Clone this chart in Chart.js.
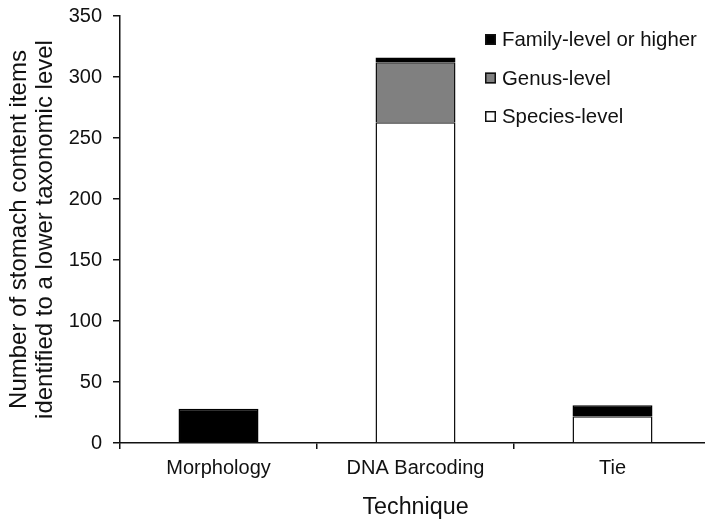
<!DOCTYPE html>
<html>
<head>
<meta charset="utf-8">
<script src="https://cdn.jsdelivr.net/npm/chart.js@4/dist/chart.umd.min.js"></script>
<style>
  html, body { margin: 0; padding: 0; background: #fff; overflow: hidden; width: 705px; height: 522px; }
  #wrap { position: absolute; left: 0; top: 0; width: 712px; height: 522px; }
</style>
</head>
<body>
<div id="wrap"><canvas id="c" width="712" height="522"></canvas></div>
<script>
// Stomach content items identified to a lower taxonomic level, by technique
const categories = ['Morphology', 'DNA Barcoding', 'Tie'];
const speciesLevel = [null, 263, 22];
const genusLevel   = [null, 49, null];
const familyLevel  = [28, 4, 9];
const yTicks = [0, 50, 100, 150, 200, 250, 300, 350];

const FONT = "'Liberation Sans', Arial, sans-serif";

// Legend drawn inside the plot, top-right, with the top stack segment listed first
const insideLegend = {
  id: 'insideLegend',
  afterDraw(chart) {
    const ctx = chart.ctx;
    const sets = chart.data.datasets.slice().reverse();
    const x0 = 485, y0 = 34, step = 38.5, box = 11;
    ctx.save();
    ctx.font = '20.4px ' + FONT;
    ctx.textBaseline = 'middle';
    ctx.textAlign = 'left';
    sets.forEach((ds, i) => {
      const y = y0 + i * step;
      ctx.fillStyle = ds.backgroundColor;
      ctx.fillRect(x0, y, box, box);
      ctx.lineWidth = 1.5;
      ctx.strokeStyle = '#111';
      ctx.strokeRect(x0 + 0.75, y + 0.75, box - 1.5, box - 1.5);
      ctx.fillStyle = '#111';
      ctx.fillText(ds.label, x0 + box + 6, y + box / 2 + 1);
    });
    ctx.restore();
  }
};

new Chart(document.getElementById('c'), {
  type: 'bar',
  data: {
    labels: categories,
    datasets: [
      { label: 'Species-level', data: speciesLevel, backgroundColor: '#ffffff', borderColor: '#111', borderWidth: 1.5 },
      { label: 'Genus-level', data: genusLevel, backgroundColor: '#808080', borderColor: '#111', borderWidth: 1.5 },
      { label: 'Family-level or higher', data: familyLevel, backgroundColor: '#000000', borderColor: '#000', borderWidth: 1.5 }
    ]
  },
  options: {
    responsive: false,
    animation: false,
    layout: { padding: { top: 16, right: 1, left: 0, bottom: 0 } },
    datasets: { bar: { barPercentage: 0.406, categoryPercentage: 1.0 } },
    plugins: { legend: { display: false }, tooltip: { enabled: false } },
    scales: {
      x: {
        stacked: true,
        offset: true,
        grid: { display: true, drawOnChartArea: false, offset: true, tickLength: 6, color: '#111', lineWidth: 1.5 },
        border: { display: true, color: '#111', width: 1.5 },
        ticks: { color: '#111', font: { family: FONT, size: 20 }, padding: 7 },
        title: { display: true, text: 'Technique', color: '#111', font: { family: FONT, size: 23.3 }, padding: { top: 6, bottom: 0 } },
        afterFit(scale) { scale.height = 79; scale.paddingLeft = 0; scale.paddingRight = 0; }
      },
      y: {
        stacked: true,
        min: 0,
        max: 350,
        afterBuildTicks(scale) { scale.ticks = yTicks.map(v => ({ value: v })); },
        grid: { display: true, drawOnChartArea: false, tickLength: 7, color: '#111', lineWidth: 1.5 },
        border: { display: true, color: '#111', width: 1.5 },
        ticks: { color: '#111', font: { family: FONT, size: 20 }, padding: 11 },
        title: {
          display: true,
          text: ['Number of stomach content items', 'identified to a lower taxonomic level'],
          color: '#111',
          font: { family: FONT, size: 24, lineHeight: '26px' },
          padding: { top: 6, bottom: 0 }
        },
        afterFit(scale) { scale.width = 120; scale.paddingTop = 0; scale.paddingBottom = 0; }
      }
    }
  },
  plugins: [insideLegend]
});
</script>
</body>
</html>
